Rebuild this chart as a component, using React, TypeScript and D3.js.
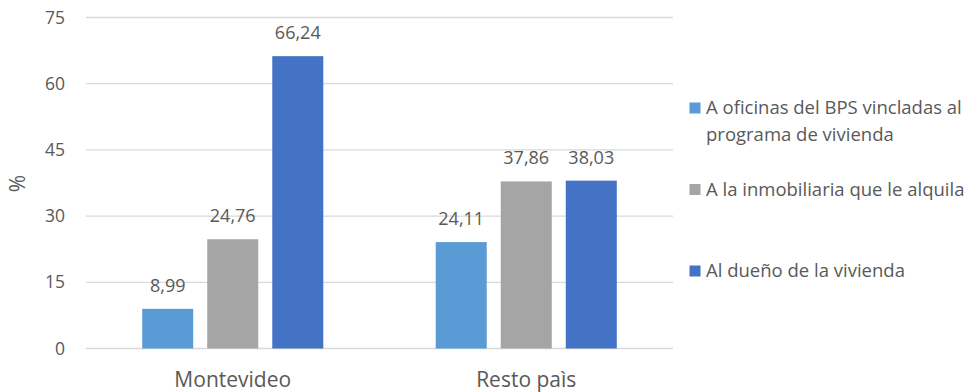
import React from 'react';
import * as d3 from 'd3';

const categories = ['Montevideo', 'Resto paìs'];
const seriesNames = [
  'A oficinas del BPS vincladas al programa de vivienda',
  'A la inmobiliaria que le alquila',
  'Al dueño de la vivienda',
];
const legendLines = [
  ['A oficinas del BPS vincladas al', 'programa de vivienda'],
  ['A la inmobiliaria que le alquila'],
  ['Al dueño de la vivienda'],
];
const oficinas = [8.99, 24.11];
const inmobiliaria = [24.76, 37.86];
const dueno = [66.24, 38.03];
const yTicks = [0, 15, 30, 45, 60, 75];
const colors = ['#5B9BD5', '#A5A5A5', '#4472C4'];

const W = 968;
const H = 392;
const font = '"Open Sans", sans-serif';
const textColor = '#595959';

const App = () => {
  const values = [oficinas, inmobiliaria, dueno];
  const x0 = d3.scaleBand().domain(categories).range([86, 673]).paddingInner(0.383).paddingOuter(0.1915);
  const x1 = d3.scaleBand().domain(seriesNames).range([0, x0.bandwidth()]).paddingInner(0.2154).paddingOuter(0);
  const y = d3.scaleLinear().domain([0, 75]).range([348.5, 17.5]);
  const fmt = (v: number) => v.toFixed(2).replace('.', ',');

  return (
    <svg width={W} height={H} style={{ position: 'absolute', left: 0, top: 0 }} fontFamily={font}>
      <g>
        {yTicks.map((t) => (
          <g key={t}>
            <line x1={86} x2={673} y1={y(t)} y2={y(t)} stroke="#D9D9D9" strokeWidth={1.3} />
            <text x={65} y={y(t)} dy="0.35em" textAnchor="end" fontSize={17.5} fill={textColor}>
              {t}
            </text>
          </g>
        ))}
      </g>
      <text transform={`translate(25,${y(37.5) + 0.5}) rotate(-90)`} textAnchor="middle" fontSize={21} fill={textColor}>
        %
      </text>
      {categories.map((c, ci) => (
        <g key={c} transform={`translate(${x0(c)},0)`}>
          {seriesNames.map((s, si) => {
            const v = values[si][ci];
            return (
              <g key={s}>
                <rect x={x1(s)} y={y(v)} width={x1.bandwidth()} height={y(0) - y(v)} fill={colors[si]} />
                <text
                  x={(x1(s) as number) + x1.bandwidth() / 2}
                  y={y(v) - 17}
                  textAnchor="middle"
                  fontSize={18}
                  fill={textColor}
                >
                  {fmt(v)}
                </text>
              </g>
            );
          })}
          <text x={x0.bandwidth() / 2} y={387} textAnchor="middle" fontSize={21} fill={textColor}>
            {c}
          </text>
        </g>
      ))}
      <g>
        {legendLines.map((lines, i) => {
          const cy = [108, 189.5, 271][i];
          return (
            <g key={i}>
              <rect x={689.5} y={cy - 5.5} width={11} height={11} fill={colors[i]} />
              {lines.map((l, li) => (
                <text key={li} x={706} y={cy + li * 26.5} dy="0.35em" fontSize={18.5} fill={textColor}>
                  {l}
                </text>
              ))}
            </g>
          );
        })}
      </g>
    </svg>
  );
};

export default App;
